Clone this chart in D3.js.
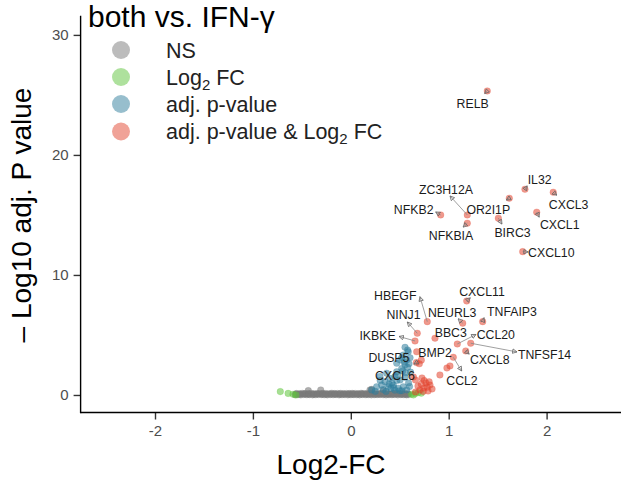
<!DOCTYPE html>
<html><head><meta charset="utf-8">
<script src="https://cdn.jsdelivr.net/npm/d3@7"></script>
<style>
html,body{margin:0;padding:0;background:#fff;}
svg{display:block;font-family:"Liberation Sans",Arial,sans-serif;}
</style></head>
<body>
<svg id="c" width="622" height="497"></svg>
<script>
// ---- data ----
const xTicks = [-2, -1, 0, 1, 2];
const yTicks = [0, 10, 20, 30];
const legendItems = ["NS", "Log2 FC", "adj. p-value", "adj. p-value & Log2 FC"];

// labelled genes (significant: adj. p-value & Log2 FC)
const genes  = ["RELB","IL32","CXCL3","OR2I1P","NFKB2","ZC3H12A","NFKBIA","BIRC3","CXCL1","CXCL10",
                "CXCL11","TNFAIP3","NEURL3","HBEGF","NINJ1","BBC3","IKBKE","CCL20","TNFSF14","CXCL8",
                "CCL2","BMP2","DUSP5","CXCL6"];
const geneFC = [1.394,1.779,2.068,1.619,0.918,1.190,1.190,1.507,1.899,1.756,
                1.184,1.347,1.143,0.781,0.679,0.860,0.656,1.088,1.225,1.174,
                1.047,0.720,0.670,0.660];
const geneP  = [25.33,17.14,16.89,16.39,15.00,15.00,14.31,14.73,15.23,11.94,
                7.83,6.11,5.98,6.11,5.14,4.73,4.50,4.25,4.31,3.67,
                3.14,2.90,2.70,1.25];

// other significant points (red)
const bothFC = [0.673,0.727,0.768,0.809,0.747,0.706,0.789,0.830,0.686,0.910,1.013,0.982,0.750,0.720,0.780,0.660,0.700,0.640,0.800,0.740];
const bothP  = [3.60,1.42,1.00,0.83,0.58,0.42,0.33,0.50,0.75,1.67,2.42,2.25,1.20,0.90,0.65,0.25,2.60,1.50,1.10,0.30];

// adj. p-value only (blue)
const pFC = [0.554,0.587,0.536,0.503,0.571,0.605,0.469,0.554,0.520,0.580,0.298,0.349,0.400,0.451,0.503,0.554,0.315,0.383,0.434,0.485,
             0.536,0.264,0.571,0.213,0.366,0.469,0.420,0.590,0.330,0.450,0.600,0.250,0.520,0.480,0.390,0.580,0.520,0.545,0.500,0.360,
             0.410,0.470,0.560,0.610,0.300,0.440,0.530,0.595];
const pP  = [3.97,3.60,3.33,2.92,2.92,3.10,2.64,2.50,2.20,2.30,1.53,1.11,1.39,1.53,1.25,1.47,0.83,0.69,0.83,0.56,
             0.69,0.69,0.42,0.42,1.81,1.94,1.00,1.00,0.45,0.40,0.70,0.30,0.35,1.70,0.90,3.75,3.10,2.75,0.35,0.30,
             0.55,1.20,1.85,1.90,1.20,0.60,2.00,2.60];

// Log2 FC only (green)
const fcFC = [-0.72,-0.64,-0.59,-0.56,0.62,0.66,0.69,0.64,0.72];
const fcP  = [0.28,0.13,0.06,0.00,0.06,0.12,0.20,0.00,0.15];

// not significant (grey)
const nsFC = [-0.57,-0.54,-0.51,-0.48,-0.45,-0.42,-0.39,-0.36,-0.33,-0.30,-0.27,-0.24,-0.21,-0.18,-0.15,-0.12,-0.09,-0.06,-0.03,0.00,
              0.03,0.06,0.09,0.12,0.15,0.18,0.21,0.24,0.27,0.30,0.33,0.36,0.39,0.42,0.45,0.48,0.51,0.54,0.57,0.59,
              -0.555,-0.525,-0.495,-0.465,-0.435,-0.405,-0.375,-0.345,-0.315,-0.285,-0.255,-0.225,-0.195,-0.165,-0.135,-0.105,-0.075,-0.045,-0.015,0.015,
              0.045,0.075,0.105,0.135,0.165,0.195,0.225,0.255,0.285,0.315,0.345,0.375,0.405,0.435,0.465,0.495,0.525,0.555,0.585,
              -0.56,-0.52,-0.47,-0.43,-0.38,-0.34,-0.29,-0.25,-0.20,-0.16,-0.11,-0.07,-0.02,0.02,0.07,0.11,0.16,0.20,0.25,0.29,
              0.34,0.38,0.43,0.47,0.52,0.56,
              -0.434,-0.307,0.196,0.213,0.332];
const nsP  = [0.02,0.03,0.01,0.04,0.02,0.03,0.01,0.02,0.04,0.03,0.02,0.01,0.03,0.02,0.04,0.01,0.02,0.03,0.01,0.02,
              0.03,0.02,0.01,0.04,0.02,0.03,0.01,0.02,0.03,0.04,0.02,0.01,0.03,0.02,0.04,0.01,0.03,0.02,0.01,0.03,
              0.12,0.10,0.13,0.11,0.12,0.14,0.10,0.12,0.11,0.13,0.12,0.10,0.14,0.11,0.12,0.13,0.10,0.12,0.11,0.13,
              0.12,0.10,0.14,0.11,0.12,0.13,0.15,0.12,0.11,0.13,0.14,0.12,0.10,0.13,0.12,0.11,0.13,0.12,0.10,
              0.07,0.06,0.08,0.07,0.06,0.08,0.07,0.06,0.08,0.07,0.06,0.08,0.07,0.06,0.08,0.07,0.06,0.08,0.07,0.06,
              0.08,0.07,0.06,0.08,0.07,0.06,
              0.36,0.42,0.42,0.47,0.36];

// ---- layout / style (not data) ----
const colNS = "#7A7A7A", colFC = "#5EC43C", colP = "#2F7E9C", colBoth = "#E2452F";
// label offsets from the point: [labelDx, labelDy, arrowDx, arrowDy] (px)
const labelLayout = {
  RELB:[-14.6,12.3,-2.6,2.6], IL32:[14.7,-9.3,2.2,-3.4], CXCL3:[15.4,12.7,3.6,3], OR2I1P:[-21,11,-3,1.8],
  NFKB2:[-27,-5,-5,-3], ZC3H12A:[-21.3,-25.7,-17.3,-19], NFKBIA:[-16.3,12.7,-4.2,3.9], BIRC3:[14.2,14.4,3.6,5.9],
  CXCL1:[23,12.7,2.5,5], CXCL10:[28.6,0.6,5.5,0.3], CXCL11:[15.3,-9.3,3.6,-3.2], TNFAIP3:[29.3,-10,1.3,-4],
  NEURL3:[-10.5,-10.6,-4.6,-4.5], HBEGF:[-32,-25.7,-7.3,-25], NINJ1:[-13.8,-18.3,-10,-11.3], BBC3:[15.8,-5.6,0,0],
  IKBKE:[-37.5,-5,-16,-4.5], CCL20:[38.5,-9,18.7,-9.5], TNFSF14:[73.8,11.7,46.3,8.7], CXCL8:[24,8.3,3.5,3.2],
  CCL2:[8.7,23.4,8.4,13.7], BMP2:[13.7,-7.3,0,0], DUSP5:[-27.5,-4.7,-2.5,1.5], CXCL6:[-20.5,-4,0,0]
};

const svg = d3.select("#c");
const x = d3.scaleLinear().domain([-2.76, 2.76]).range([80.6, 621]);
const y = d3.scaleLinear().domain([-1.46, 31.6]).range([412.5, 15.7]);

// axes
const gx = svg.append("g").attr("transform", `translate(0,${y(-1.46)})`)
  .call(d3.axisBottom(x).tickValues(xTicks).tickSize(7).tickPadding(6).tickFormat(d => String(d)));
const gy = svg.append("g").attr("transform", `translate(${x(-2.76)},0)`)
  .call(d3.axisLeft(y).tickValues(yTicks).tickSize(7).tickPadding(5).tickFormat(d => String(d)));
[gx, gy].forEach(g => {
  g.select(".domain").remove();
  g.selectAll(".tick line").attr("stroke", "#333").attr("stroke-width", 1.4);
  g.selectAll(".tick text").attr("fill", "#4D4D4D").style("font-size", "15px")
    .style("font-family", "'Liberation Sans',Arial,sans-serif");
});
svg.append("line").attr("x1", x(-2.76)).attr("x2", x(2.76)).attr("y1", y(-1.46)).attr("y2", y(-1.46))
  .attr("stroke", "#000").attr("stroke-width", 1.4);
svg.append("line").attr("x1", x(-2.76)).attr("x2", x(-2.76)).attr("y1", y(-1.46)+0.7).attr("y2", y(31.6))
  .attr("stroke", "#000").attr("stroke-width", 1.4);

// points
function dots(xs, ys, col, op) {
  svg.append("g").selectAll("circle").data(xs.map((v, i) => [v, ys[i]])).join("circle")
    .attr("cx", d => x(d[0])).attr("cy", d => y(d[1])).attr("r", 3.3)
    .attr("fill", col).attr("fill-opacity", op)
    .attr("stroke", col).attr("stroke-opacity", 0.35).attr("stroke-width", 0.6);
}
dots(nsFC, nsP, colNS, 0.6);
dots(fcFC, fcP, colFC, 0.55);
dots(pFC, pP, colP, 0.55);
dots(bothFC, bothP, colBoth, 0.55);
dots(geneFC, geneP, colBoth, 0.55);

// connectors + labels
const defs = svg.append("defs");
defs.append("marker").attr("id", "arr").attr("viewBox", "0 0 10 10").attr("refX", 9).attr("refY", 5)
  .attr("markerUnits", "userSpaceOnUse").attr("markerWidth", 5.5).attr("markerHeight", 5.5).attr("orient", "auto")
  .append("path").attr("d", "M1,1 L9,5 L1,9 Z").attr("fill", "none").attr("stroke", "#666").attr("stroke-width", 1.4);

const lab = svg.append("g");
genes.forEach((g, i) => {
  const px = x(geneFC[i]), py = y(geneP[i]);
  const L = labelLayout[g];
  if (L[2] !== 0 || L[3] !== 0) {
    lab.append("line").attr("x1", px).attr("y1", py).attr("x2", px + L[2]).attr("y2", py + L[3])
      .attr("stroke", "#888").attr("stroke-width", 0.8).attr("marker-end", "url(#arr)");
  }
  lab.append("text").attr("x", px + L[0]).attr("y", py + L[1]).attr("dy", "0.36em")
    .attr("text-anchor", "middle").attr("fill", "#1b1b1b").style("font-size", "12.3px").text(g);
});

// title
svg.append("text").attr("x", 88).attr("y", 27).style("font-size", "30px").attr("fill", "#000").text("both vs. IFN-γ");

// legend
const legCols = [colNS, colFC, colP, colBoth];
const legY = [50, 77, 104, 131.5];
legendItems.forEach((t, i) => {
  svg.append("circle").attr("cx", 121).attr("cy", legY[i]).attr("r", 9).attr("fill", legCols[i]).attr("fill-opacity", 0.5);
  const tx = svg.append("text").attr("x", 166).attr("y", legY[i]).attr("dy", "0.36em")
    .style("font-size", "21.5px").attr("fill", "#222");
  const parts = t.split("Log2");
  parts.forEach((p, k) => {
    if (k > 0) {
      tx.append("tspan").text("Log");
      tx.append("tspan").attr("dy", "5").style("font-size", "15px").text("2");
      tx.append("tspan").attr("dy", "-5").text(p);
    } else tx.append("tspan").text(p);
  });
});

// axis titles
svg.append("text").attr("x", 331).attr("y", 474).attr("text-anchor", "middle")
  .style("font-size", "28px").attr("fill", "#000").text("Log2-FC");
svg.append("text").attr("transform", "translate(31,215) rotate(-90)").attr("text-anchor", "middle")
  .style("font-size", "28px").attr("fill", "#000").text("– Log10 adj. P value");
</script>
</body></html>
